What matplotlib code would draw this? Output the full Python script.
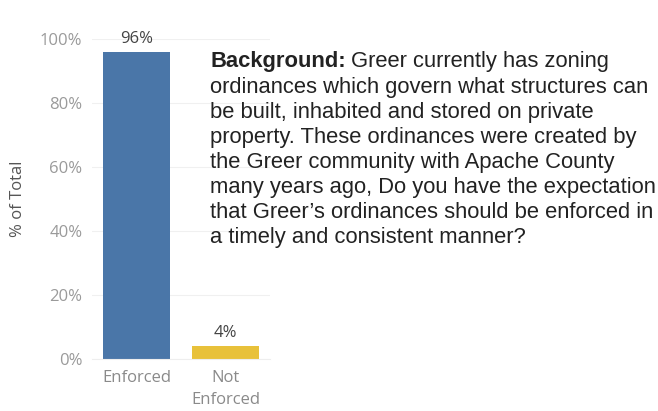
import matplotlib
matplotlib.use("Agg")
import matplotlib.pyplot as plt

categories = ["Enforced", "Not\nEnforced"]
shares = [96, 4]
bar_colors = ["#4a76a8", "#e8c13a"]
y_ticks = [0, 20, 40, 60, 80, 100]

lead_in = "Background:"
question_lines = [
    "Greer currently has zoning",
    "ordinances which govern what structures can",
    "be built, inhabited and stored on private",
    "property. These ordinances were created by",
    "the Greer community with Apache County",
    "many years ago, Do you have the expectation",
    "that Greer\u2019s ordinances should be enforced in",
    "a timely and consistent manner?",
]

W, H = 658, 411
fig = plt.figure(figsize=(W / 100, H / 100), dpi=100)
ax = fig.add_axes([92 / W, 1 - 359 / H, 178 / W, 320 / H])

x = range(len(categories))
ax.bar(x, shares, width=0.75, color=bar_colors, zorder=2)

for xi, v in zip(x, shares):
    ax.text(xi, v + 1.5, f"{v}%", ha="center", va="bottom",
            fontsize=12, color="#444444", family="Open Sans")

ax.set_xlim(-0.5, 1.5)
ax.set_ylim(0, 100)
ax.set_yticks(y_ticks)
ax.set_yticklabels([f"{t}%" for t in y_ticks], family="Open Sans",
                   fontsize=12, color="#9a9a9a")
# Tableau nudges the bottom label up so it stays inside the pane
ax.get_yticklabels()[0].set_y(3.5)
ax.set_xticks(list(x))
ax.set_xticklabels(categories, family="Open Sans", fontsize=12,
                   color="#8a8a8a", linespacing=1.45, va="top")
ax.tick_params(axis="y", length=0, pad=7)
ax.tick_params(axis="x", length=0, pad=8)
ax.set_ylabel("% of Total", family="Open Sans", fontsize=12, color="#555555",
              labelpad=10)

ax.grid(axis="y", color="#f0f0f0", linewidth=0.8, zorder=0)
for s in ["top", "right", "left"]:
    ax.spines[s].set_visible(False)
ax.spines["bottom"].set_color("#eeeeee")

# question block: bold lead-in, then the text line by line
text_kw = dict(family="Liberation Sans", fontsize=15.8, color="#222222",
               va="center")
y0, step = 62, 25.1
lead = fig.text(210 / W, 1 - y0 / H, lead_in, fontweight="bold", **text_kw)
fig.canvas.draw()
x_after = (lead.get_window_extent().x1 + 5) / W
for i, line in enumerate(question_lines):
    fig.text(x_after if i == 0 else 210 / W, 1 - (y0 + step * i) / H, line,
             **text_kw)

fig.savefig("out.png", dpi=100)
